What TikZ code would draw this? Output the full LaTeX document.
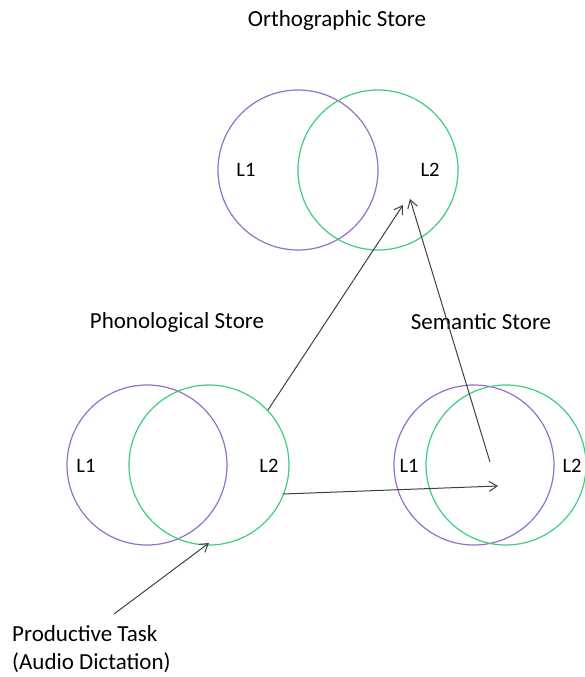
\documentclass[tikz,border=0pt]{standalone}
\usepackage{fontspec}
\setmainfont{Carlito}
\usetikzlibrary{arrows.meta}
\definecolor{cpurple}{RGB}{150,110,200}
\definecolor{cgreen}{RGB}{60,205,130}
\tikzset{
  pc/.style={draw=cpurple, line width=1.2pt, circle, minimum size=160pt, inner sep=0pt},
  gc/.style={draw=cgreen, line width=1.2pt, circle, minimum size=160pt, inner sep=0pt},
  lbl/.style={font=\fontsize{20.5}{24}\selectfont, inner sep=0pt},
  ttl/.style={font=\fontsize{23}{28}\selectfont, inner sep=0pt},
  arr/.style={draw=black!75, line width=1pt, -{Straight Barb[length=8pt,width=10pt]}}
}
\begin{document}
\begin{tikzpicture}[x=1pt,y=-1pt]
\useasboundingbox (0,0) rectangle (585,677);
% Orthographic
\node[ttl] (ot) at (337,20) {Orthographic Store};
\node[pc] (o1) at (298,170) {};
\node[gc] (o2) at (378,170) {};
\node[lbl] (ol1) at (246,170) {L1};
\node[lbl] (ol2) at (430,170) {L2};
% Phonological
\node[ttl] (pt) at (177,322) {Phonological Store};
\node[pc] (p1) at (147,465) {};
\node[gc] (p2) at (209,465) {};
\node[lbl] (pl1) at (86,466) {L1};
\node[lbl] (pl2) at (269,466) {L2};
% Semantic
\node[ttl] (st) at (481,322) {Semantic Store};
\node[pc] (s1) at (474,465) {};
\node[gc] (s2) at (506,465) {};
\node[lbl] (sl1) at (409,466) {L1};
\node[lbl] (sl2) at (572,466) {L2};
% task
\node[ttl, align=left, anchor=north west] (task) at (12,625) {Productive Task\\(Audio Dictation)};
% coordinates
\coordinate (a1s) at (268,410);
\coordinate (a1e) at (403,205);
\coordinate (a2s) at (490,462);
\coordinate (a2e) at (410,199);
\coordinate (a3s) at (283,494);
\coordinate (a3e) at (498,486);
\coordinate (a4s) at (114,614);
\coordinate (a4e) at (209,543);
\draw[arr] (a1s) -- (a1e);
\draw[arr] (a2s) -- (a2e);
\draw[arr] (a3s) -- (a3e);
\draw[arr] (a4s) -- (a4e);
\end{tikzpicture}
\end{document}
